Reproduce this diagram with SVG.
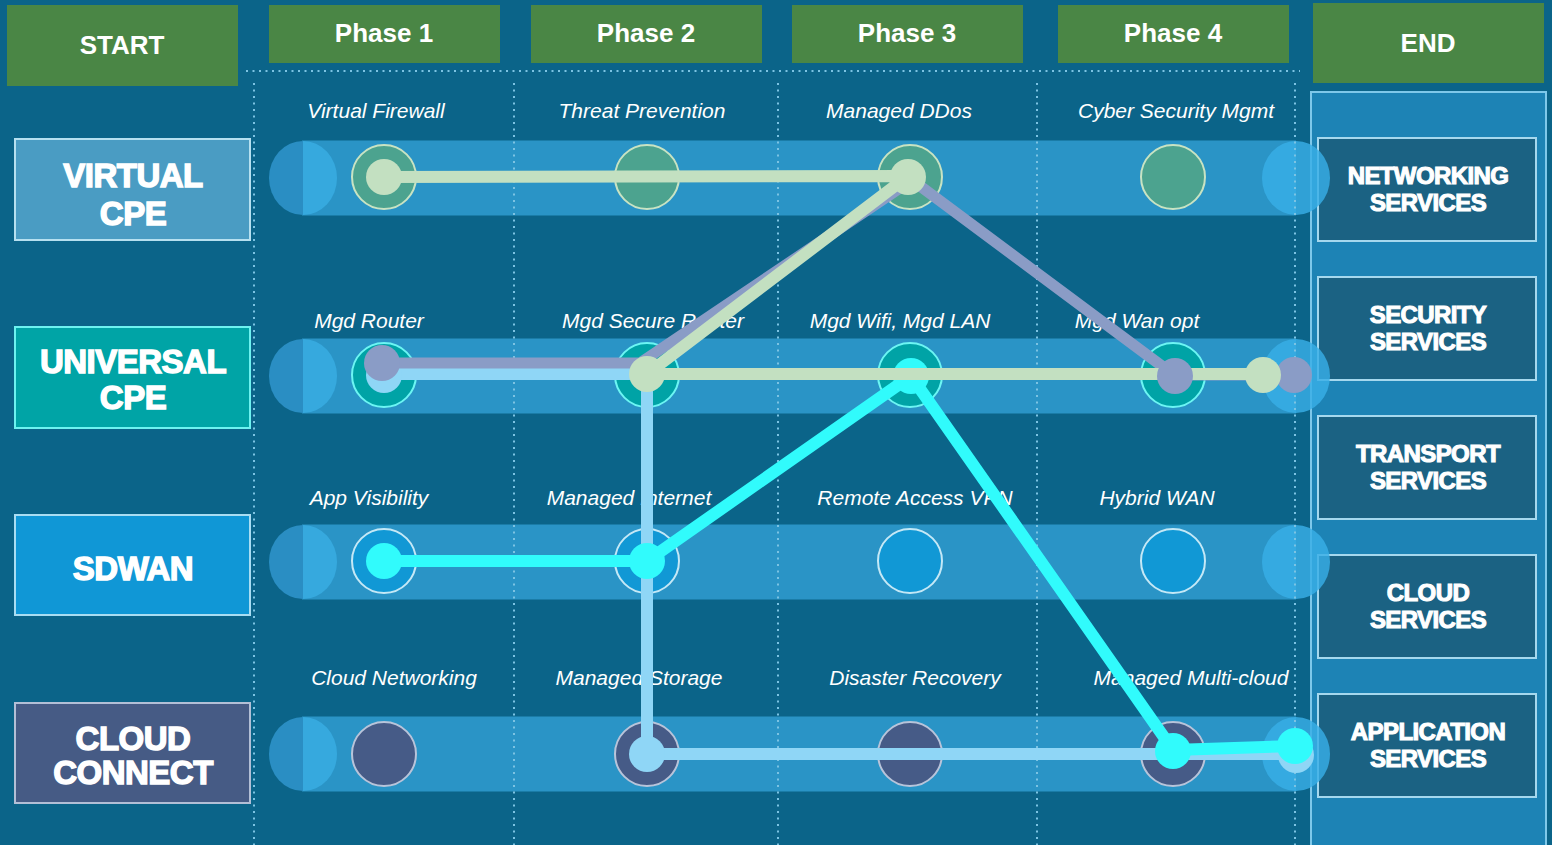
<svg xmlns="http://www.w3.org/2000/svg" width="1552" height="845" viewBox="0 0 1552 845">
<style>
  .hdr{fill:#4A8645}
  .hdrt{font-family:"Liberation Sans",Arial,sans-serif;font-weight:bold;font-size:26px;fill:#fff;text-anchor:middle}
  .grid{stroke:#7CC3E3;stroke-width:2;stroke-dasharray:2 4.5;fill:none}
  .bar{fill:#2A94C6}
  .capL{fill:#2A8EC3}
  .capR{fill:#36A9DE}
  .capE{fill:#38AEE6;opacity:.82}
  .lbl{font-family:"Liberation Sans",Arial,sans-serif;font-style:italic;font-size:21px;fill:#fff;text-anchor:middle}
  .cat{font-family:"Liberation Sans",Arial,sans-serif;font-weight:bold;font-size:33px;letter-spacing:-0.5px;fill:#fff;stroke:#fff;stroke-width:1.4;text-anchor:middle}
  .svc{font-family:"Liberation Sans",Arial,sans-serif;font-weight:bold;font-size:24px;letter-spacing:-0.6px;fill:#fff;stroke:#fff;stroke-width:1.1;text-anchor:middle}
  .svcbox{fill:#1B6283;stroke:#A5D8EE;stroke-width:2}
  .n1{fill:#4CA38F;stroke:#C8E3C3;stroke-width:2}
  .n2{fill:#00A3A6;stroke:#6CF5F3;stroke-width:2}
  .n3{fill:#1198D5;stroke:#C4E8F6;stroke-width:2}
  .n4{fill:#465B87;stroke:#B8C4DA;stroke-width:2}
  .ln{fill:none;stroke-linejoin:round}
  .green{stroke:#C3E0C1;stroke-width:12}
  .purple{stroke:#8A9CC6;stroke-width:11}
  .lblue{stroke:#8FD6F6;stroke-width:12}
  .cyan{stroke:#31FBFC;stroke-width:12}
</style>

<!-- backdrop -->
<rect x="0" y="0" width="1552" height="845" fill="#0B6489"/>

<!-- column headers -->
<g id="hdr-start"><rect class="hdr" x="7" y="5" width="231" height="81"/><text class="hdrt" x="122" y="54">START</text></g>
<g id="hdr-phase1"><rect class="hdr" x="269" y="5" width="231" height="58"/><text class="hdrt" x="384" y="42">Phase 1</text></g>
<g id="hdr-phase2"><rect class="hdr" x="531" y="5" width="231" height="58"/><text class="hdrt" x="646" y="42">Phase 2</text></g>
<g id="hdr-phase3"><rect class="hdr" x="792" y="5" width="231" height="58"/><text class="hdrt" x="907" y="42">Phase 3</text></g>
<g id="hdr-phase4"><rect class="hdr" x="1058" y="5" width="231" height="58"/><text class="hdrt" x="1173" y="42">Phase 4</text></g>
<g id="hdr-end"><rect class="hdr" x="1313" y="3" width="231" height="80"/><text class="hdrt" x="1428" y="52">END</text></g>

<!-- right services panel -->
<g id="panel-end">
  <rect x="1311" y="92" width="235" height="765" fill="#1D83B5" stroke="#7EC8EA" stroke-width="2"/>
</g>
<g id="svc-networking"><rect class="svcbox" x="1318" y="138" width="218" height="103"/><text class="svc" x="1428" y="184">NETWORKING</text><text class="svc" x="1428" y="211">SERVICES</text></g>
<g id="svc-security"><rect class="svcbox" x="1318" y="277" width="218" height="103"/><text class="svc" x="1428" y="323">SECURITY</text><text class="svc" x="1428" y="350">SERVICES</text></g>
<g id="svc-transport"><rect class="svcbox" x="1318" y="416" width="218" height="103"/><text class="svc" x="1428" y="462">TRANSPORT</text><text class="svc" x="1428" y="489">SERVICES</text></g>
<g id="svc-cloud"><rect class="svcbox" x="1318" y="555" width="218" height="103"/><text class="svc" x="1428" y="601">CLOUD</text><text class="svc" x="1428" y="628">SERVICES</text></g>
<g id="svc-application"><rect class="svcbox" x="1318" y="694" width="218" height="103"/><text class="svc" x="1428" y="740">APPLICATION</text><text class="svc" x="1428" y="767">SERVICES</text></g>

<!-- row category boxes -->
<g id="cat-vcpe"><rect x="15" y="139" width="235" height="101" fill="#4A9CC3" stroke="#B6E0F0" stroke-width="2"/><text class="cat" x="133" y="187">VIRTUAL</text><text class="cat" x="133" y="225">CPE</text></g>
<g id="cat-ucpe"><rect x="15" y="327" width="235" height="101" fill="#00A4A6" stroke="#6DF2F0" stroke-width="2"/><text class="cat" x="133" y="373">UNIVERSAL</text><text class="cat" x="133" y="409">CPE</text></g>
<g id="cat-sdwan"><rect x="15" y="515" width="235" height="100" fill="#1097D6" stroke="#A9DDF3" stroke-width="2"/><text class="cat" x="133" y="580">SDWAN</text></g>
<g id="cat-cloud"><rect x="15" y="703" width="235" height="100" fill="#465B85" stroke="#B3BFD6" stroke-width="2"/><text class="cat" x="133" y="750">CLOUD</text><text class="cat" x="133" y="784">CONNECT</text></g>

<!-- tracks -->
<g id="tracks">
  <rect class="bar" x="302" y="140.5" width="994" height="75"/>
  <path class="capL" d="M303,141 A34,37 0 0 0 303,215 Z"/><path class="capR" d="M303,141 A34,37 0 0 1 303,215 Z"/>
  <rect class="bar" x="302" y="338.5" width="994" height="75"/>
  <path class="capL" d="M303,339 A34,37 0 0 0 303,413 Z"/><path class="capR" d="M303,339 A34,37 0 0 1 303,413 Z"/>
  <rect class="bar" x="302" y="524.5" width="994" height="75"/>
  <path class="capL" d="M303,525 A34,37 0 0 0 303,599 Z"/><path class="capR" d="M303,525 A34,37 0 0 1 303,599 Z"/>
  <rect class="bar" x="302" y="716.5" width="994" height="75"/>
  <path class="capL" d="M303,717 A34,37 0 0 0 303,791 Z"/><path class="capR" d="M303,717 A34,37 0 0 1 303,791 Z"/>
  <ellipse class="capE" cx="1296" cy="178" rx="34" ry="37"/>
  <ellipse class="capE" cx="1296" cy="376" rx="34" ry="37"/>
  <ellipse class="capE" cx="1296" cy="562" rx="34" ry="37"/>
  <ellipse class="capE" cx="1296" cy="754" rx="34" ry="37"/>
</g>

<!-- dotted phase grid -->
<g id="grid">
  <line class="grid" x1="246" y1="71" x2="1300" y2="71"/>
  <line class="grid" x1="254" y1="83" x2="254" y2="845"/>
  <line class="grid" x1="514" y1="83" x2="514" y2="845"/>
  <line class="grid" x1="778" y1="83" x2="778" y2="845"/>
  <line class="grid" x1="1037" y1="83" x2="1037" y2="845"/>
  <line class="grid" x1="1295" y1="83" x2="1295" y2="845"/>
</g>

<!-- service nodes -->
<g id="node-virtual-firewall"><circle class="n1" cx="384" cy="177" r="32"/><text class="lbl" x="376" y="118">Virtual Firewall</text></g>
<g id="node-threat-prevention"><circle class="n1" cx="647" cy="177" r="32"/><text class="lbl" x="642" y="118">Threat Prevention</text></g>
<g id="node-managed-ddos"><circle class="n1" cx="910" cy="177" r="32"/><text class="lbl" x="899" y="118">Managed DDos</text></g>
<g id="node-cyber-security"><circle class="n1" cx="1173" cy="177" r="32"/><text class="lbl" x="1176" y="118">Cyber Security Mgmt</text></g>

<g id="node-mgd-router"><circle class="n2" cx="384" cy="375" r="32"/><text class="lbl" x="369" y="328">Mgd Router</text></g>
<g id="node-mgd-secure-router"><circle class="n2" cx="647" cy="375" r="32"/><text class="lbl" x="653" y="328">Mgd Secure Router</text></g>
<g id="node-mgd-wifi-lan"><circle class="n2" cx="910" cy="375" r="32"/><text class="lbl" x="900" y="328">Mgd Wifi, Mgd LAN</text></g>
<g id="node-mgd-wan-opt"><circle class="n2" cx="1173" cy="375" r="32"/><text class="lbl" x="1137" y="328">Mgd Wan opt</text></g>

<g id="node-app-visibility"><circle class="n3" cx="384" cy="561" r="32"/><text class="lbl" x="369" y="505">App Visibility</text></g>
<g id="node-managed-internet"><circle class="n3" cx="647" cy="561" r="32"/><text class="lbl" x="629" y="505">Managed Internet</text></g>
<g id="node-remote-access-vpn"><circle class="n3" cx="910" cy="561" r="32"/><text class="lbl" x="915" y="505">Remote Access VPN</text></g>
<g id="node-hybrid-wan"><circle class="n3" cx="1173" cy="561" r="32"/><text class="lbl" x="1157" y="505">Hybrid WAN</text></g>

<g id="node-cloud-networking"><circle class="n4" cx="384" cy="754" r="32"/><text class="lbl" x="394" y="685">Cloud Networking</text></g>
<g id="node-managed-storage"><circle class="n4" cx="647" cy="754" r="32"/><text class="lbl" x="639" y="685">Managed Storage</text></g>
<g id="node-disaster-recovery"><circle class="n4" cx="910" cy="754" r="32"/><text class="lbl" x="915" y="685">Disaster Recovery</text></g>
<g id="node-managed-multicloud"><circle class="n4" cx="1173" cy="754" r="32"/><text class="lbl" x="1191" y="685">Managed Multi-cloud</text></g>

<!-- journey connectors -->
<g id="connectors">
  <!-- light blue journey -->
  <polyline class="ln lblue" points="384,374 647,374 647,754 1296,754"/>
  <circle cx="384" cy="375" r="18" fill="#8FD6F6"/>
  <circle cx="647" cy="754" r="18" fill="#8FD6F6"/>
  <circle cx="1296" cy="755" r="18" fill="#8FD6F6"/>
  <!-- purple journey -->
  <polyline class="ln purple" points="382,363 640,363 912,180 1174,375 1294,375"/>
  <circle cx="382" cy="363" r="18" fill="#8A9CC6"/>
  <circle cx="1294" cy="375" r="18" fill="#8A9CC6"/>
  <!-- cyan journey -->
  <polyline class="ln cyan" points="384,561 647,561 911,376 1173,750 1295,746"/>
  <circle cx="384" cy="561" r="18" fill="#31FBFC"/>
  <circle cx="647" cy="561" r="18" fill="#31FBFC"/>
  <circle cx="911" cy="376" r="18" fill="#31FBFC"/>
  <circle cx="1173" cy="751" r="18" fill="#31FBFC"/>
  <circle cx="1295" cy="746" r="18" fill="#31FBFC"/>
  <!-- green journey -->
  <polyline class="ln green" points="384,177 908,176 647,374 1263,374"/>
  <circle cx="384" cy="177" r="18" fill="#C3E0C1"/>
  <circle cx="908" cy="177" r="18" fill="#C3E0C1"/>
  <circle cx="647" cy="374" r="18" fill="#C3E0C1"/>
  <circle cx="1263" cy="375" r="18" fill="#C3E0C1"/>
  <!-- purple stop at Mgd Wan opt -->
  <circle cx="1175" cy="376" r="18" fill="#8A9CC6"/>
</g>
</svg>
